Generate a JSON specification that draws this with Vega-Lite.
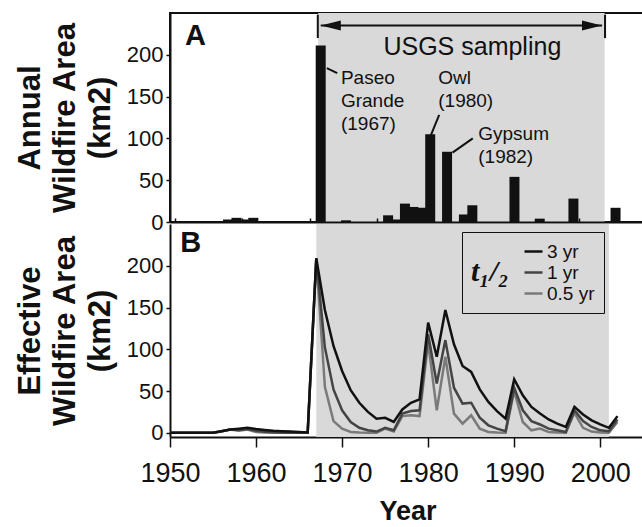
{
  "$schema": "https://vega.github.io/schema/vega-lite/v6.json",
  "padding": {"left": 13, "top": 12, "right": 0, "bottom": 0},
  "background": "white",
  "config": {
    "font": "Liberation Sans",
    "view": {"stroke": null},
    "axis": {"domainColor": "#111111", "tickColor": "#111111", "labelColor": "#111111", "titleColor": "#111111", "grid": false, "domainWidth": 2, "tickWidth": 1.5}
  },
  "bounds": "flush",
  "spacing": 2,
  "resolve": {"scale": {"color": "independent"}, "legend": {"color": "independent"}},
  "datasets": {
    "shade": [{"start": 1967, "end": 2001}],
    "annual": [
      {"year": 1956, "area": 3}, {"year": 1957, "area": 5}, {"year": 1958, "area": 3}, {"year": 1959, "area": 5},
      {"year": 1967, "area": 211}, {"year": 1970, "area": 2}, {"year": 1975, "area": 8}, {"year": 1976, "area": 3},
      {"year": 1977, "area": 22}, {"year": 1978, "area": 18}, {"year": 1979, "area": 17}, {"year": 1980, "area": 105},
      {"year": 1982, "area": 84}, {"year": 1984, "area": 9}, {"year": 1985, "area": 20}, {"year": 1990, "area": 54},
      {"year": 1993, "area": 4}, {"year": 1997, "area": 28}, {"year": 2002, "area": 17}
    ],
    "eff": [
      {"year":1950,"series":"0.5 yr","area":0},{"year":1951,"series":"0.5 yr","area":0},{"year":1952,"series":"0.5 yr","area":0},{"year":1953,"series":"0.5 yr","area":0},{"year":1954,"series":"0.5 yr","area":0},{"year":1955,"series":"0.5 yr","area":0},{"year":1956,"series":"0.5 yr","area":2},{"year":1957,"series":"0.5 yr","area":4},{"year":1958,"series":"0.5 yr","area":2.5},{"year":1959,"series":"0.5 yr","area":4},{"year":1960,"series":"0.5 yr","area":1},{"year":1961,"series":"0.5 yr","area":0.3},{"year":1962,"series":"0.5 yr","area":0},{"year":1963,"series":"0.5 yr","area":0},{"year":1964,"series":"0.5 yr","area":0},{"year":1965,"series":"0.5 yr","area":0},{"year":1966,"series":"0.5 yr","area":0},{"year":1967,"series":"0.5 yr","area":209},{"year":1968,"series":"0.5 yr","area":55},{"year":1969,"series":"0.5 yr","area":14},{"year":1970,"series":"0.5 yr","area":5},{"year":1971,"series":"0.5 yr","area":1},{"year":1972,"series":"0.5 yr","area":0.3},{"year":1973,"series":"0.5 yr","area":0},{"year":1974,"series":"0.5 yr","area":0},{"year":1975,"series":"0.5 yr","area":5},{"year":1976,"series":"0.5 yr","area":1.5},{"year":1977,"series":"0.5 yr","area":20},{"year":1978,"series":"0.5 yr","area":21},{"year":1979,"series":"0.5 yr","area":20},{"year":1980,"series":"0.5 yr","area":108},{"year":1981,"series":"0.5 yr","area":27},{"year":1982,"series":"0.5 yr","area":91},{"year":1983,"series":"0.5 yr","area":23},{"year":1984,"series":"0.5 yr","area":11},{"year":1985,"series":"0.5 yr","area":21},{"year":1986,"series":"0.5 yr","area":5},{"year":1987,"series":"0.5 yr","area":1},{"year":1988,"series":"0.5 yr","area":0.3},{"year":1989,"series":"0.5 yr","area":0},{"year":1990,"series":"0.5 yr","area":50},{"year":1991,"series":"0.5 yr","area":13},{"year":1992,"series":"0.5 yr","area":3},{"year":1993,"series":"0.5 yr","area":5},{"year":1994,"series":"0.5 yr","area":1},{"year":1995,"series":"0.5 yr","area":0.3},{"year":1996,"series":"0.5 yr","area":0},{"year":1997,"series":"0.5 yr","area":24},{"year":1998,"series":"0.5 yr","area":6},{"year":1999,"series":"0.5 yr","area":1.5},{"year":2000,"series":"0.5 yr","area":0.4},{"year":2001,"series":"0.5 yr","area":0},{"year":2002,"series":"0.5 yr","area":13},
      {"year":1950,"series":"1 yr","area":0},{"year":1951,"series":"1 yr","area":0},{"year":1952,"series":"1 yr","area":0},{"year":1953,"series":"1 yr","area":0},{"year":1954,"series":"1 yr","area":0},{"year":1955,"series":"1 yr","area":0},{"year":1956,"series":"1 yr","area":2},{"year":1957,"series":"1 yr","area":4},{"year":1958,"series":"1 yr","area":3.5},{"year":1959,"series":"1 yr","area":4.5},{"year":1960,"series":"1 yr","area":2.5},{"year":1961,"series":"1 yr","area":1.2},{"year":1962,"series":"1 yr","area":0.6},{"year":1963,"series":"1 yr","area":0.3},{"year":1964,"series":"1 yr","area":0},{"year":1965,"series":"1 yr","area":0},{"year":1966,"series":"1 yr","area":0},{"year":1967,"series":"1 yr","area":209},{"year":1968,"series":"1 yr","area":102},{"year":1969,"series":"1 yr","area":52},{"year":1970,"series":"1 yr","area":27},{"year":1971,"series":"1 yr","area":13},{"year":1972,"series":"1 yr","area":6},{"year":1973,"series":"1 yr","area":3},{"year":1974,"series":"1 yr","area":1.5},{"year":1975,"series":"1 yr","area":6},{"year":1976,"series":"1 yr","area":3},{"year":1977,"series":"1 yr","area":23},{"year":1978,"series":"1 yr","area":26},{"year":1979,"series":"1 yr","area":27},{"year":1980,"series":"1 yr","area":118},{"year":1981,"series":"1 yr","area":59},{"year":1982,"series":"1 yr","area":111},{"year":1983,"series":"1 yr","area":54},{"year":1984,"series":"1 yr","area":35},{"year":1985,"series":"1 yr","area":36},{"year":1986,"series":"1 yr","area":18},{"year":1987,"series":"1 yr","area":9},{"year":1988,"series":"1 yr","area":5},{"year":1989,"series":"1 yr","area":2},{"year":1990,"series":"1 yr","area":54},{"year":1991,"series":"1 yr","area":27},{"year":1992,"series":"1 yr","area":14},{"year":1993,"series":"1 yr","area":10},{"year":1994,"series":"1 yr","area":5},{"year":1995,"series":"1 yr","area":3},{"year":1996,"series":"1 yr","area":1},{"year":1997,"series":"1 yr","area":27},{"year":1998,"series":"1 yr","area":14},{"year":1999,"series":"1 yr","area":7},{"year":2000,"series":"1 yr","area":3},{"year":2001,"series":"1 yr","area":2},{"year":2002,"series":"1 yr","area":16},
      {"year":1950,"series":"3 yr","area":0},{"year":1951,"series":"3 yr","area":0},{"year":1952,"series":"3 yr","area":0},{"year":1953,"series":"3 yr","area":0},{"year":1954,"series":"3 yr","area":0},{"year":1955,"series":"3 yr","area":0},{"year":1956,"series":"3 yr","area":2},{"year":1957,"series":"3 yr","area":4},{"year":1958,"series":"3 yr","area":5},{"year":1959,"series":"3 yr","area":6},{"year":1960,"series":"3 yr","area":4.5},{"year":1961,"series":"3 yr","area":3.5},{"year":1962,"series":"3 yr","area":2.5},{"year":1963,"series":"3 yr","area":2},{"year":1964,"series":"3 yr","area":1.5},{"year":1965,"series":"3 yr","area":1},{"year":1966,"series":"3 yr","area":0.5},{"year":1967,"series":"3 yr","area":209},{"year":1968,"series":"3 yr","area":147},{"year":1969,"series":"3 yr","area":104},{"year":1970,"series":"3 yr","area":74},{"year":1971,"series":"3 yr","area":51},{"year":1972,"series":"3 yr","area":36},{"year":1973,"series":"3 yr","area":25},{"year":1974,"series":"3 yr","area":17},{"year":1975,"series":"3 yr","area":18},{"year":1976,"series":"3 yr","area":13},{"year":1977,"series":"3 yr","area":28},{"year":1978,"series":"3 yr","area":36},{"year":1979,"series":"3 yr","area":40},{"year":1980,"series":"3 yr","area":132},{"year":1981,"series":"3 yr","area":91},{"year":1982,"series":"3 yr","area":147},{"year":1983,"series":"3 yr","area":106},{"year":1984,"series":"3 yr","area":80},{"year":1985,"series":"3 yr","area":73},{"year":1986,"series":"3 yr","area":52},{"year":1987,"series":"3 yr","area":37},{"year":1988,"series":"3 yr","area":26},{"year":1989,"series":"3 yr","area":17},{"year":1990,"series":"3 yr","area":64},{"year":1991,"series":"3 yr","area":45},{"year":1992,"series":"3 yr","area":31},{"year":1993,"series":"3 yr","area":23},{"year":1994,"series":"3 yr","area":16},{"year":1995,"series":"3 yr","area":11},{"year":1996,"series":"3 yr","area":7},{"year":1997,"series":"3 yr","area":31},{"year":1998,"series":"3 yr","area":22},{"year":1999,"series":"3 yr","area":15},{"year":2000,"series":"3 yr","area":10},{"year":2001,"series":"3 yr","area":6},{"year":2002,"series":"3 yr","area":20}
    ],
    "rules": [
      {"x": 1967.3, "x2": 2000.7, "y": 235, "y2": 235},
      {"x": 1966.95, "x2": 1966.95, "y": 220, "y2": 248},
      {"x": 2001.05, "x2": 2001.05, "y": 220, "y2": 248},
      {"x": 1968.02, "x2": 1969.26, "y": 184, "y2": 178},
      {"x": 1980.38, "x2": 1981.36, "y": 104, "y2": 128},
      {"x": 1982.94, "x2": 1985.35, "y": 83, "y2": 100}
    ],
    "notes": [
      {"x": 1969.7, "y": 172, "label": "Paseo\nGrande\n(1967)"},
      {"x": 1981.25, "y": 172, "label": "Owl\n(1980)"},
      {"x": 1986.0, "y": 105, "label": "Gypsum\n(1982)"}
    ]
  },
  "vconcat": [
    {
      "width": 475,
      "height": 209,
      "view": {"stroke": "#111111", "strokeWidth": 2},
      "layer": [
        {
          "data": {"name": "shade"},
          "mark": {"type": "rect", "color": "#d9d9d9"},
          "encoding": {
            "x": {"field": "start", "type": "quantitative", "scale": {"domain": [1950, 2005.2], "nice": false, "zero": false},
                  "axis": {"title": null, "labels": false, "tickSize": -4, "tickWidth": 1.5, "zindex": 1, "values": [1950,1951,1952,1953,1954,1955,1956,1957,1958,1959,1960,1961,1962,1963,1964,1965,1966,1967,1968,1969,1970,1971,1972,1973,1974,1975,1976,1977,1978,1979,1980,1981,1982,1983,1984,1985,1986,1987,1988,1989,1990,1991,1992,1993,1994,1995,1996,1997,1998,1999,2000,2001,2002,2003,2004,2005]}},
            "x2": {"field": "end"}
          }
        },
        {
          "data": {"name": "annual"},
          "mark": {"type": "bar", "color": "#111111", "width": 10, "xOffset": 2.5},
          "encoding": {
            "x": {"field": "year", "type": "quantitative"},
            "y": {"field": "area", "type": "quantitative", "scale": {"domain": [0, 250], "nice": false},
                  "axis": {"values": [0, 50, 100, 150, 200], "title": ["Annual", "Wildfire Area", "(km2)"], "titleFontSize": 31, "titleFontWeight": "bold", "titleLineHeight": 35, "titlePadding": 10, "labelFontSize": 22, "labelPadding": 3, "tickSize": 4}}
          }
        },
        {
          "data": {"name": "rules"},
          "mark": {"type": "rule", "color": "#111111", "strokeWidth": 2},
          "encoding": {
            "x": {"field": "x", "type": "quantitative"}, "x2": {"field": "x2"},
            "y": {"field": "y", "type": "quantitative"}, "y2": {"field": "y2"}
          }
        },
        {
          "data": {"values": [{"x": 1968.5, "y": 235}]},
          "mark": {"type": "point", "filled": true, "color": "#111111", "opacity": 1, "size": 400, "shape": "M -1 0 L 1 -0.5 L 1 0.5 Z"},
          "encoding": {"x": {"field": "x", "type": "quantitative"}, "y": {"field": "y", "type": "quantitative"}}
        },
        {
          "data": {"values": [{"x": 1999.5, "y": 235}]},
          "mark": {"type": "point", "filled": true, "color": "#111111", "opacity": 1, "size": 400, "shape": "M 1 0 L -1 -0.5 L -1 0.5 Z"},
          "encoding": {"x": {"field": "x", "type": "quantitative"}, "y": {"field": "y", "type": "quantitative"}}
        },
        {
          "data": {"values": [{"x": 1985.3, "y": 209.6, "label": "USGS sampling"}]},
          "mark": {"type": "text", "fontSize": 25, "align": "center", "baseline": "middle", "color": "#111111"},
          "encoding": {"x": {"field": "x", "type": "quantitative"}, "y": {"field": "y", "type": "quantitative"}, "text": {"field": "label"}}
        },
        {
          "data": {"values": [{"x": 1951.2, "y": 223, "label": "A"}]},
          "mark": {"type": "text", "fontSize": 29, "fontWeight": "bold", "align": "left", "baseline": "middle", "color": "#111111"},
          "encoding": {"x": {"field": "x", "type": "quantitative"}, "y": {"field": "y", "type": "quantitative"}, "text": {"field": "label"}}
        },
        {
          "data": {"name": "notes"},
          "mark": {"type": "text", "fontSize": 19, "align": "left", "baseline": "middle", "lineBreak": "\n", "lineHeight": 23, "color": "#111111"},
          "encoding": {"x": {"field": "x", "type": "quantitative"}, "y": {"field": "y", "type": "quantitative"}, "text": {"field": "label"}}
        }
      ]
    },
    {
      "width": 475,
      "height": 213,
      "layer": [
        {
          "data": {"name": "shade"},
          "mark": {"type": "rect", "color": "#d9d9d9"},
          "encoding": {
            "x": {"field": "start", "type": "quantitative", "scale": {"domain": [1950, 2005.2], "nice": false, "zero": false},
                  "axis": {"values": [1950, 1960, 1970, 1980, 1990, 2000], "format": "d", "labelFontSize": 27, "labelPadding": 13, "labelFlush": false, "labelOverlap": false, "tickSize": 10, "title": "Year", "titleFontSize": 27, "titleFontWeight": "bold", "titlePadding": 12}},
            "x2": {"field": "end"}
          }
        },
        {
          "data": {"name": "eff"},
          "mark": {"type": "line", "strokeWidth": 2.5},
          "encoding": {
            "x": {"field": "year", "type": "quantitative"},
            "y": {"field": "area", "type": "quantitative", "scale": {"domain": [-5, 250], "nice": false, "zero": false},
                  "axis": {"values": [0, 50, 100, 150, 200], "title": ["Effective", "Wildfire Area", "(km2)"], "titleFontSize": 31, "titleFontWeight": "bold", "titleLineHeight": 35, "titlePadding": 10, "labelFontSize": 22, "labelPadding": 3, "tickSize": 4}},
            "color": {"field": "series", "type": "nominal",
                      "scale": {"domain": ["3 yr", "1 yr", "0.5 yr"], "range": ["#111111", "#444444", "#7a7a7a"]},
                      "legend": {"orient": "none", "legendX": 292, "legendY": 8, "title": "t₁/₂", "titleOrient": "left", "titleFont": "Liberation Serif", "titleFontSize": 30, "titleFontStyle": "italic", "titleFontWeight": "bold", "titleColor": "#111111", "titlePadding": 14, "titleAnchor": "middle", "labelFontSize": 19, "labelColor": "#111111", "labelOffset": 3, "symbolType": "stroke", "symbolSize": 324, "symbolStrokeWidth": 2.5, "strokeColor": "#111111", "padding": 9, "rowPadding": -4, "fillColor": "#d9d9d9"}}
          }
        },
        {
          "data": {"values": [{"x": 1951.2, "y": 227, "label": "B"}]},
          "mark": {"type": "text", "fontSize": 29, "fontWeight": "bold", "align": "left", "baseline": "middle", "color": "#111111"},
          "encoding": {"x": {"field": "x", "type": "quantitative"}, "y": {"field": "y", "type": "quantitative"}, "text": {"field": "label"}}
        }
      ]
    }
  ]
}
